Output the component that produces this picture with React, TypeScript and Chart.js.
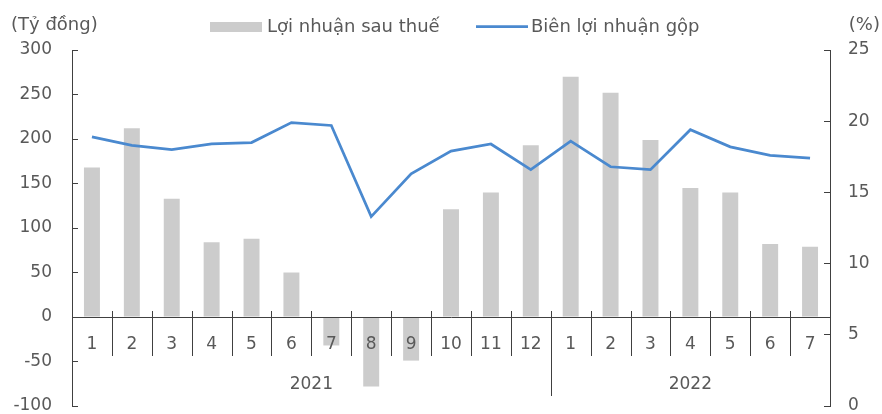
import React, { useEffect, useRef } from "react";
import { Chart, registerables } from "chart.js";

Chart.register(...registerables);

const months = ["1", "2", "3", "4", "5", "6", "7", "8", "9", "10", "11", "12", "1", "2", "3", "4", "5", "6", "7"];
const years = ["2021", "2022"];
const yearSpans = [12, 7];
const profit = [168, 212, 133, 84, 88, 50, -32, -78, -49, 121, 140, 193, 270, 252, 199, 145, 140, 82, 79];
const grossMargin = [18.9, 18.3, 18.0, 18.4, 18.5, 19.9, 19.7, 13.3, 16.3, 17.9, 18.4, 16.6, 18.6, 16.8, 16.6, 19.4, 18.2, 17.6, 17.4];
const seriesNames = ["Lợi nhuận sau thuế", "Biên lợi nhuận gộp"];
const leftTitle = "(Tỷ đồng)";
const rightTitle = "(%)";
const leftRange = [-100, 300, 50];
const rightRange = [0, 25, 5];

const FONT = "'DejaVu Sans', sans-serif";
const FS = 17;
const FS_TEXT = 18;
const TEXT = "#595959";
const AXIS = "#404040";
const BAR = "#cccccc";
const LINE = "#4a89cf";

const overlay = {
  id: "overlay",
  afterDraw(chart: any) {
    const ctx = chart.ctx as CanvasRenderingContext2D;
    const xs = chart.scales.x;
    const ys = chart.scales.y;
    const zeroY = Math.round(ys.getPixelForValue(0));
    const step = xs.getPixelForValue(1) - xs.getPixelForValue(0);
    ctx.save();
    ctx.strokeStyle = AXIS;
    ctx.lineWidth = 1;
    const bounds = new Set<number>([0]);
    let acc = 0;
    yearSpans.forEach((s) => { acc += s; bounds.add(acc); });
    for (let i = 0; i <= months.length; i++) {
      const bx = Math.round(xs.getPixelForValue(i) - step / 2) + 0.5;
      const tall = bounds.has(i);
      ctx.beginPath();
      ctx.moveTo(bx, zeroY - 6);
      ctx.lineTo(bx, zeroY + (tall ? 79 : 39));
      ctx.stroke();
    }
    // year labels
    ctx.fillStyle = TEXT;
    ctx.font = `${FS}px ${FONT}`;
    ctx.textAlign = "center";
    ctx.textBaseline = "middle";
    let start = 0;
    years.forEach((yr, k) => {
      const a = xs.getPixelForValue(start) - step / 2;
      const b = xs.getPixelForValue(start + yearSpans[k] - 1) + step / 2;
      ctx.fillText(yr, (a + b) / 2, zeroY + 68);
      start += yearSpans[k];
    });
    // axis titles
    ctx.font = `${FS_TEXT}px ${FONT}`;
    ctx.textAlign = "left";
    ctx.fillText(leftTitle, 11, 25);
    ctx.textAlign = "right";
    ctx.fillText(rightTitle, 880, 25);
    // legend
    ctx.fillStyle = BAR;
    ctx.fillRect(210, 22, 52, 10);
    ctx.fillStyle = TEXT;
    ctx.textAlign = "left";
    ctx.fillText(seriesNames[0], 267, 27);
    ctx.strokeStyle = LINE;
    ctx.lineWidth = 2.75;
    ctx.beginPath();
    ctx.moveTo(476, 26.5);
    ctx.lineTo(528, 26.5);
    ctx.stroke();
    ctx.fillText(seriesNames[1], 531, 27);
    ctx.restore();
  },
};

export default function App() {
  const ref = useRef<HTMLCanvasElement>(null);
  useEffect(() => {
    if (!ref.current) return;
    const chart = new Chart(ref.current, {
      data: {
        labels: months,
        datasets: [
          {
            type: "bar",
            label: seriesNames[0],
            data: profit,
            backgroundColor: BAR,
            yAxisID: "y",
            barPercentage: 0.4,
            categoryPercentage: 1,
            order: 2,
          },
          {
            type: "line",
            label: seriesNames[1],
            data: grossMargin,
            borderColor: LINE,
            borderWidth: 2.75,
            pointRadius: 0,
            tension: 0,
            yAxisID: "y1",
            order: 1,
          },
        ],
      } as any,
      options: {
        responsive: false,
        animation: false,
        layout: { padding: { top: 50, bottom: 8, left: 0, right: 0 } },
        plugins: { legend: { display: false }, tooltip: { enabled: false } },
        scales: {
          x: {
            type: "category",
            position: { y: 0 } as any,
            offset: true,
            grid: { display: false, drawTicks: false },
            border: { display: true, color: AXIS, width: 1, z: 1 },
            ticks: { z: 1, color: TEXT, font: { family: FONT, size: FS }, padding: 17, maxRotation: 0, autoSkip: false },
          },
          y: {
            position: "left",
            min: leftRange[0],
            max: leftRange[1],
            ticks: { stepSize: leftRange[2], color: TEXT, font: { family: FONT, size: FS }, padding: 26 },
            grid: { display: true, drawOnChartArea: false, tickLength: -6, color: AXIS },
            border: { display: true, color: AXIS, width: 1 },
            afterFit: (s: any) => { s.width = 72; s.paddingTop = 0; s.paddingBottom = 0; },
          },
          y1: {
            position: "right",
            min: rightRange[0],
            max: rightRange[1],
            ticks: { stepSize: rightRange[2], color: TEXT, font: { family: FONT, size: FS }, padding: 24 },
            grid: { display: true, drawOnChartArea: false, tickLength: -6, color: AXIS },
            border: { display: true, color: AXIS, width: 1 },
            afterFit: (s: any) => { s.width = 52; s.paddingTop = 0; s.paddingBottom = 0; },
          },
        },
      } as any,
      plugins: [overlay],
    });
    return () => chart.destroy();
  }, []);
  return (
    <div style={{ position: "absolute", left: 0, top: 0, width: 882, height: 414, background: "#fff" }}>
      <canvas ref={ref} width={882} height={414} style={{ display: "block" }} />
    </div>
  );
}
